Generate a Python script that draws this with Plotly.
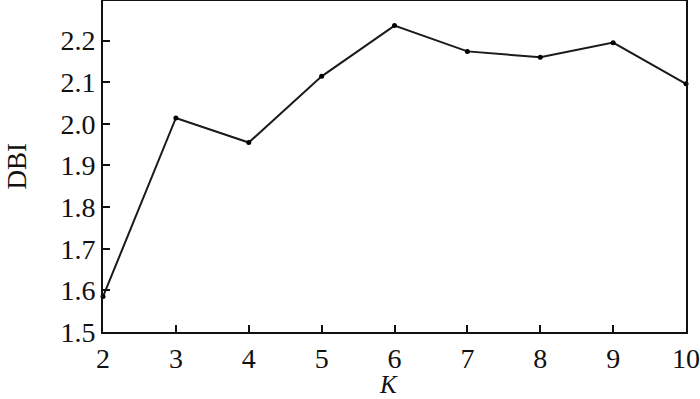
import plotly.graph_objects as go

k_values = [2, 3, 4, 5, 6, 7, 8, 9, 10]
dbi_values = [1.585, 2.014, 1.955, 2.114, 2.236, 2.174, 2.160, 2.195, 2.096]
x_ticks = [2, 3, 4, 5, 6, 7, 8, 9, 10]
y_ticks = [1.5, 1.6, 1.7, 1.8, 1.9, 2.0, 2.1, 2.2]
y_tick_labels = ["1.5", "1.6", "1.7", "1.8", "1.9", "2.0", "2.1", "2.2"]

font = "Liberation Serif, Times New Roman, serif"

fig = go.Figure()
fig.add_trace(go.Scatter(
    x=k_values, y=dbi_values, mode="lines+markers",
    line=dict(color="#1a1a1a", width=2),
    marker=dict(color="#000000", size=5),
    showlegend=False, cliponaxis=False,
))

fig.update_layout(
    width=700, height=399,
    margin=dict(l=103, r=14, t=1, b=67, autoexpand=False),
    paper_bgcolor="white", plot_bgcolor="white",
    font=dict(family=font, size=28, color="#111111"),
    xaxis=dict(
        range=[2, 10], tickvals=x_ticks, ticks="inside", ticklen=7, tickwidth=1.5,
        tickcolor="#111111", showline=True, linecolor="#111111", linewidth=2,
        mirror=True, showgrid=False, zeroline=False, automargin=False,
        tickfont=dict(family=font, size=28),
    ),
    yaxis=dict(
        range=[1.5, 2.295], tickvals=y_ticks, ticktext=y_tick_labels, ticks="inside",
        ticklen=7, tickwidth=1.5, tickcolor="#111111", showline=True,
        linecolor="#111111", linewidth=2, mirror=True, showgrid=False, zeroline=False,
        automargin=False, tickfont=dict(family=font, size=28),
    ),
    annotations=[
        dict(text="DBI", xref="paper", yref="paper", x=-0.1492, y=0.5,
             xanchor="center", yanchor="middle", textangle=-90, showarrow=False,
             borderpad=0, font=dict(family=font, size=27, color="#111111")),
        dict(text="<i>K</i>", xref="paper", yref="paper", x=0.49, y=-0.160,
             xanchor="center", yanchor="middle", showarrow=False,
             borderpad=0, font=dict(family=font, size=25, color="#111111")),
    ],
)

fig.write_html("out.html")
